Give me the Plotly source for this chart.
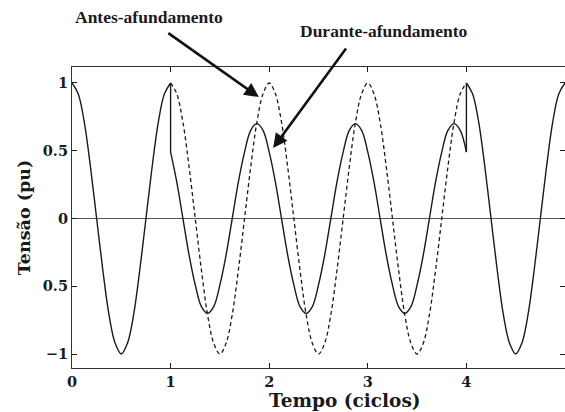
import plotly.graph_objects as go

# Time samples in cycles (1/16-cycle steps) and the voltage read at each one, in pu
pre_t = [0.0, 0.0625, 0.125, 0.1875, 0.25, 0.3125, 0.375, 0.4375, 0.5,
         0.5625, 0.625, 0.6875, 0.75, 0.8125, 0.875, 0.9375, 1.0]
pre_v = [1.0, 0.92, 0.71, 0.38, 0.0, -0.38, -0.71, -0.92, -1.0,
         -0.92, -0.71, -0.38, 0.0, 0.38, 0.71, 0.92, 1.0]

sag_t = [1.0, 1.0625, 1.125, 1.1875, 1.25, 1.3125, 1.375, 1.4375,
         1.5, 1.5625, 1.625, 1.6875, 1.75, 1.8125, 1.875, 1.9375,
         2.0, 2.0625, 2.125, 2.1875, 2.25, 2.3125, 2.375, 2.4375,
         2.5, 2.5625, 2.625, 2.6875, 2.75, 2.8125, 2.875, 2.9375,
         3.0, 3.0625, 3.125, 3.1875, 3.25, 3.3125, 3.375, 3.4375,
         3.5, 3.5625, 3.625, 3.6875, 3.75, 3.8125, 3.875, 3.9375, 4.0]
sag_v = [0.49, 0.27, 0.0, -0.27, -0.49, -0.65, -0.7, -0.65,
         -0.49, -0.27, 0.0, 0.27, 0.49, 0.65, 0.7, 0.65,
         0.49, 0.27, 0.0, -0.27, -0.49, -0.65, -0.7, -0.65,
         -0.49, -0.27, 0.0, 0.27, 0.49, 0.65, 0.7, 0.65,
         0.49, 0.27, 0.0, -0.27, -0.49, -0.65, -0.7, -0.65,
         -0.49, -0.27, 0.0, 0.27, 0.49, 0.65, 0.7, 0.65, 0.49]

post_t = [4.0, 4.0625, 4.125, 4.1875, 4.25, 4.3125, 4.375, 4.4375, 4.5,
          4.5625, 4.625, 4.6875, 4.75, 4.8125, 4.875, 4.9375, 5.0]
post_v = [1.0, 0.92, 0.71, 0.38, 0.0, -0.38, -0.71, -0.92, -1.0,
          -0.92, -0.71, -0.38, 0.0, 0.38, 0.71, 0.92, 1.0]

# Voltage that would have continued without the sag (same instants as sag_t)
ref_t = sag_t
ref_v = [1.0, 0.92, 0.71, 0.38, 0.0, -0.38, -0.71, -0.92,
         -1.0, -0.92, -0.71, -0.38, 0.0, 0.38, 0.71, 0.92,
         1.0, 0.92, 0.71, 0.38, 0.0, -0.38, -0.71, -0.92,
         -1.0, -0.92, -0.71, -0.38, 0.0, 0.38, 0.71, 0.92,
         1.0, 0.92, 0.71, 0.38, 0.0, -0.38, -0.71, -0.92,
         -1.0, -0.92, -0.71, -0.38, 0.0, 0.38, 0.71, 0.92, 1.0]

x_ticks = [0, 1, 2, 3, 4, 5]
y_ticks = [1, 0.5, 0, -0.5, -1]
y_tick_text = ["1", "0.5", "0", "0.5", "\u22121"]
Y_RANGE = [-1.103, 1.118]

INK = "#1a1a1a"
TICK_SERIF = "DejaVu Serif"
LABEL_SERIF = "Liberation Serif"

fig = go.Figure()

solid = dict(color=INK, width=1.4)
fig.add_trace(go.Scatter(x=ref_t, y=ref_v, mode="lines", line_shape="spline",
                         line=dict(color=INK, width=1.3, dash="4px,3px")))
for xs, ys in [(pre_t, pre_v), (sag_t, sag_v), (post_t, post_v)]:
    fig.add_trace(go.Scatter(x=xs, y=ys, mode="lines", line_shape="spline", line=solid))
# step changes at sag start and end
fig.add_trace(go.Scatter(x=[pre_t[-1], sag_t[0]], y=[pre_v[-1], sag_v[0]],
                         mode="lines", line=solid))
fig.add_trace(go.Scatter(x=[sag_t[-1], post_t[0]], y=[sag_v[-1], post_v[0]],
                         mode="lines", line=solid))
# empty trace so the right-hand tick axis gets drawn
fig.add_trace(go.Scatter(x=[None], y=[None], yaxis="y2", mode="lines",
                         hoverinfo="skip"))

tickfont = dict(family=TICK_SERIF, size=14.5, color=INK, weight="bold")

fig.update_layout(
    width=565, height=412,
    margin=dict(l=72, r=0, t=67, b=44),
    paper_bgcolor="white", plot_bgcolor="white",
    showlegend=False,
    xaxis=dict(range=[0, 5], tickvals=x_ticks, ticks="inside", ticklen=5,
               tickcolor=INK, showline=True, linecolor="#333", linewidth=1.2,
               mirror="ticks", showgrid=False, zeroline=False,
               tickfont=tickfont, ticklabelstandoff=0),
    yaxis=dict(range=Y_RANGE, tickvals=y_ticks, ticktext=y_tick_text,
               ticks="inside", ticklen=5, tickcolor=INK, showline=True,
               linecolor="#333", linewidth=1.2, showgrid=False,
               zeroline=True, zerolinecolor="#555", zerolinewidth=1,
               tickfont=tickfont,
               title=dict(text="Tensão (pu)", standoff=7,
                          font=dict(family=TICK_SERIF, size=17.5, color=INK,
                                    weight="bold"))),
    # tick marks only along the right edge
    yaxis2=dict(overlaying="y", side="right", range=Y_RANGE, tickvals=y_ticks,
                ticks="inside", ticklen=5, tickcolor=INK, showticklabels=False,
                showline=False, showgrid=False, zeroline=False),
)

fig.add_annotation(text="Tempo (ciclos)", xref="paper", yref="paper",
                   x=0.554, y=-0.1096, xanchor="center", yanchor="middle",
                   showarrow=False,
                   font=dict(family=TICK_SERIF, size=18.5, color=INK, weight="bold"))

labelfont = dict(family=LABEL_SERIF, size=17.5, color=INK, weight="bold")
fig.add_annotation(text="Antes-afundamento", xref="paper", yref="paper",
                   x=0.156, y=1.166, xanchor="center", yanchor="middle",
                   showarrow=False, font=labelfont)
fig.add_annotation(text="Durante-afundamento", xref="paper", yref="paper",
                   x=0.631, y=1.120, xanchor="center", yanchor="middle",
                   showarrow=False, font=labelfont)
arrow = dict(showarrow=True, arrowhead=2, arrowsize=1.1, arrowwidth=2.6,
             arrowcolor="#111", text="", xref="paper", yref="paper")
fig.add_annotation(x=0.379, y=0.900, ax=-92, ay=-65, **arrow)
fig.add_annotation(x=0.408, y=0.731, ax=74, ay=-101, **arrow)

fig.write_html("out.html")
